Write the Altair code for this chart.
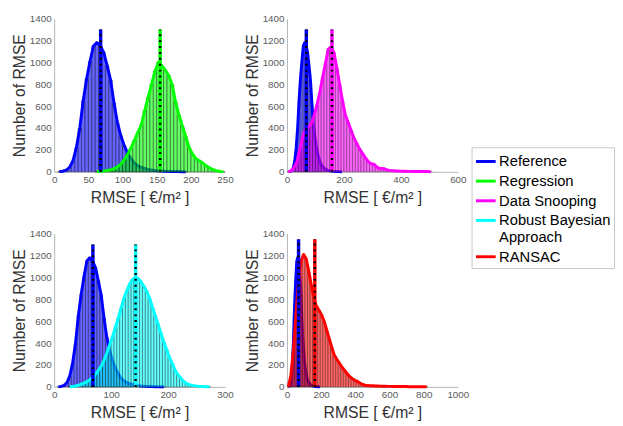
import altair as alt
import pandas as pd

series_names = ["Reference", "Regression", "Data Snooping", "Robust Bayesian Approach", "RANSAC"]
series_colors = ["#0000FF", "#00FF00", "#FF00FF", "#00FFFF", "#FF0000"]

# Histogram bins: first bin start, bin width, counts
ref_start, ref_width = 5, 5
ref_counts = [2, 5, 15, 40, 100, 220, 400, 650, 850, 1010, 1150, 1180, 1150, 1090, 970,
              840, 630, 450, 330, 240, 170, 120, 80, 55, 40, 30, 22, 16, 12, 9, 7, 5,
              4, 3, 2, 2, 1, 1]

reg_start, reg_width = 60, 5
reg_counts = [2, 5, 8, 12, 18, 28, 45, 70, 110, 160, 220, 290, 360, 430, 560, 680, 800,
              920, 1000, 970, 930, 880, 800, 640, 520, 420, 320, 220, 160, 120, 100, 80,
              55, 35, 20, 10, 4, 1]

ds_start, ds_width = 0, 10
ds_counts = [0, 10, 40, 90, 200, 320, 390, 405, 440, 510, 610, 720, 860, 990, 1120, 1140,
             1090, 950, 800, 650, 520, 450, 380, 310, 260, 210, 170, 130, 95, 75, 70, 45,
             30, 30, 25, 15, 12, 10, 8, 6, 5, 5, 4, 4, 3, 3, 3, 2, 2, 2, 1]

rb_start, rb_width = 25, 5
rb_counts = [1, 3, 8, 15, 25, 35, 48, 65, 85, 115, 150, 190, 245, 310, 385, 460, 545, 630,
             720, 810, 880, 940, 980, 1000, 990, 960, 920, 875, 810, 730, 650, 570, 490,
             410, 340, 270, 210, 150, 110, 80, 50, 30, 20, 14, 10, 7, 5, 3, 2, 1]

ran_start, ran_width = 0, 15
ran_counts = [0, 100, 330, 660, 960, 1150, 1210, 1170, 1060, 930, 810, 740, 700, 660, 600,
              520, 440, 360, 290, 250, 215, 180, 150, 120, 95, 75, 60, 50, 35, 22, 15, 12,
              10, 10, 9, 8, 7, 6, 6, 5, 5, 4, 4, 4, 3, 3, 3, 2, 2, 2, 2, 1, 1, 1, 1]

# Mean values (vertical lines) and their heights
means = {"Reference": 68, "Regression": 155, "Data Snooping": 158,
         "Robust Bayesian Approach": 143, "RANSAC": 163}
mean_line_top = [1300, 1300, 1300, 1350]

panel_others = ["Regression", "Data Snooping", "Robust Bayesian Approach", "RANSAC"]
x_max = [250, 600, 300, 1000]
x_ticks = [[0, 50, 100, 150, 200, 250], [0, 200, 400, 600], [0, 100, 200, 300],
           [0, 200, 400, 600, 800, 1000]]
y_ticks = [0, 200, 400, 600, 800, 1000, 1200, 1400]


def hist_df(name, start, width, counts):
    rows = []
    for i, c in enumerate(counts):
        x0 = start + i * width
        rows.append({"series": name, "x0": x0, "x1": x0 + width,
                     "xc": x0 + width / 2, "count": c, "base": 0})
    return pd.DataFrame(rows)


hists = {
    "Reference": hist_df("Reference", ref_start, ref_width, ref_counts),
    "Regression": hist_df("Regression", reg_start, reg_width, reg_counts),
    "Data Snooping": hist_df("Data Snooping", ds_start, ds_width, ds_counts),
    "Robust Bayesian Approach": hist_df("Robust Bayesian Approach", rb_start, rb_width, rb_counts),
    "RANSAC": hist_df("RANSAC", ran_start, ran_width, ran_counts),
}

# edge opacity per panel (thin bins get lighter edges)
edge_op = [(0.55, 0.55), (0.3, 0.45), (0.5, 0.5), (0.15, 0.45)]

FONT = "Liberation Sans"

color_scale = alt.Scale(domain=series_names, range=series_colors)
# separate (reversed) domain so the fill scale does not merge with the colour legend
fill_scale = alt.Scale(domain=series_names[::-1], range=series_colors[::-1])
legend = alt.Legend(
    title=None, orient="none", legendX=425, legendY=131,
    symbolType="stroke", symbolSize=400, symbolStrokeWidth=3,
    labelFontSize=15, labelFont=FONT, labelColor="black", labelLimit=400,
    labelOffset=2, rowPadding=0, padding=3, strokeColor="#c8c8c8",
    fillColor="white",
    labelExpr="datum.label == 'Robust Bayesian Approach' ? ['Robust Bayesian', 'Approach'] : datum.label",
)


def panel(i):
    other = panel_others[i]
    xs = alt.Scale(domain=[0, x_max[i]], nice=False, zero=False)
    ys = alt.Scale(domain=[0, 1400], nice=False)
    xaxis = alt.Axis(values=x_ticks[i], title="RMSE [ €/m² ]", format="d",
                     labelOverlap=False, labelFlush=False)
    yaxis = alt.Axis(values=y_ticks, title="Number of RMSE", format="d",
                     labelOverlap=False, labelFlush=False)
    layers = []
    for k, name in enumerate(["Reference", other]):
        df = hists[name]
        bars = alt.Chart(df).mark_rect(
            fillOpacity=0.6, stroke="black", strokeWidth=0.6,
            strokeOpacity=edge_op[i][k]
        ).encode(
            x=alt.X("x0:Q", scale=xs, axis=xaxis),
            x2="x1:Q",
            y=alt.Y("count:Q", scale=ys, axis=yaxis),
            y2="base:Q",
            fill=alt.Fill("series:N", scale=fill_scale, legend=None),
        )
        line = alt.Chart(df).mark_line(strokeWidth=3, strokeJoin="round").encode(
            x=alt.X("xc:Q", scale=xs, axis=xaxis),
            y=alt.Y("count:Q", scale=ys, axis=yaxis),
            color=alt.Color("series:N", scale=color_scale, legend=legend),
        )
        layers += [bars, line]
    mdf = pd.DataFrame([
        {"series": n, "mean": means[n], "base": 0, "top": mean_line_top[i]}
        for n in ["Reference", other]
    ])
    mrule = alt.Chart(mdf).mark_rule(strokeWidth=3.5).encode(
        x=alt.X("mean:Q", scale=xs, axis=xaxis),
        y=alt.Y("base:Q", scale=ys, axis=yaxis),
        y2="top:Q",
        color=alt.Color("series:N", scale=color_scale, legend=legend),
    )
    drule = alt.Chart(mdf).mark_rule(strokeWidth=2.5, strokeDash=[2, 4], color="black").encode(
        x=alt.X("mean:Q", scale=xs, axis=xaxis),
        y=alt.Y("base:Q", scale=ys, axis=yaxis),
        y2="top:Q",
    )
    layers += [mrule, drule]
    return alt.layer(*layers).properties(width=174, height=156)


chart = alt.concat(panel(0), panel(1), panel(2), panel(3), columns=2,
                   spacing={"row": 24, "column": 10}).properties(
    padding={"left": 3, "top": 2, "right": 0, "bottom": 0}
).configure_view(stroke=None).configure_axis(
    grid=False, ticks=False, domainColor="#b5b5b5", domainWidth=1,
    labelFont=FONT, labelFontSize=10, labelColor="#5a5a5a", labelPadding=3,
    titleFont=FONT, titleFontSize=16, titleFontWeight="normal", titleColor="#333333",
).configure_axisX(titlePadding=5).configure_axisY(titlePadding=2)

chart.save("out.html", embed_options={"renderer": "svg", "actions": False})
